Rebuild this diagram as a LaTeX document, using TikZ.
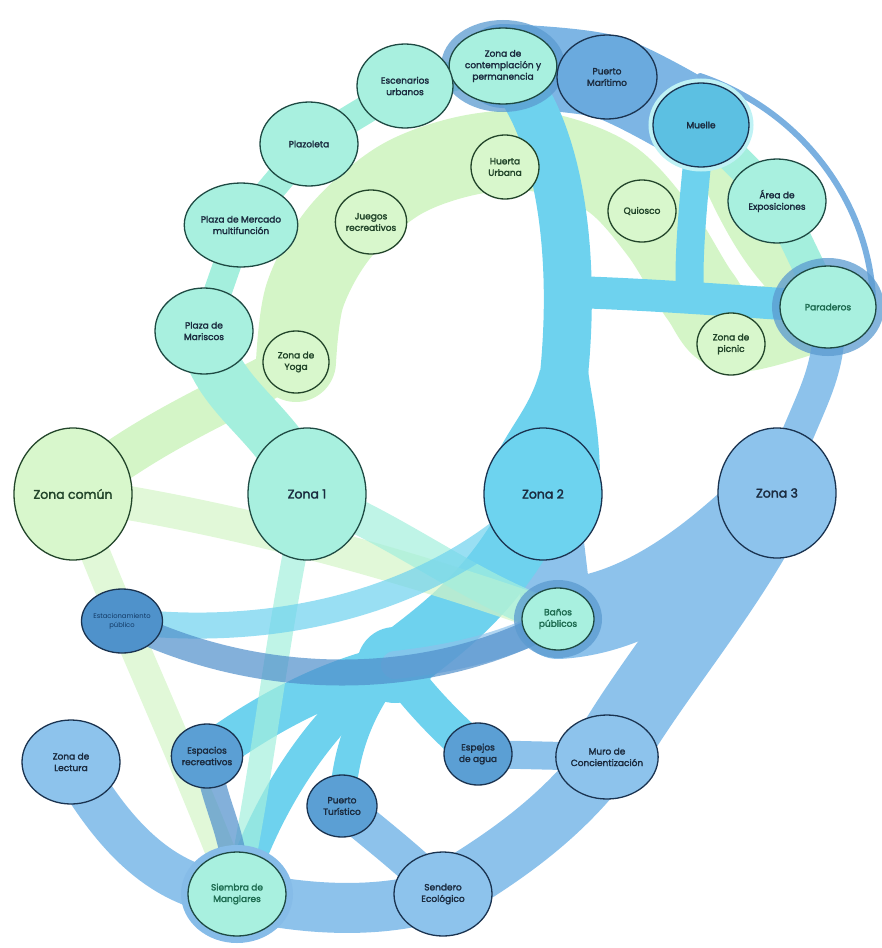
\documentclass[tikz,border=0pt]{standalone}
\usepackage{fontspec}
\setmainfont{Poppins}[BoldFont=Poppins, BoldFeatures={FakeBold=2.2}]
\usetikzlibrary{shapes.geometric}
\pgfdeclarelayer{bands}
\pgfdeclarelayer{over}
\pgfsetlayers{bands,over,main}
\definecolor{gfill}{HTML}{D8F7CC}
\definecolor{gband}{HTML}{D4F5C7}
\definecolor{afill}{HTML}{A8F0DF}
\definecolor{aband}{HTML}{A4EFDD}
\definecolor{cfill}{HTML}{6DD3EF}
\definecolor{cband}{HTML}{6ED2EE}
\definecolor{bfill}{HTML}{8DC3EC}
\definecolor{bband}{HTML}{8DC2EB}
\definecolor{topband}{HTML}{7DB5E4}
\definecolor{topline}{HTML}{7AB0E0}
\definecolor{dfill}{HTML}{5B9FD4}
\definecolor{pmfill}{HTML}{6AAADE}
\definecolor{estfill}{HTML}{4F92CB}
\definecolor{dband}{HTML}{4F8FCB}
\definecolor{mfill}{HTML}{5CC0E2}
\definecolor{muelring}{HTML}{BFF2F5}
\definecolor{esttext}{HTML}{123A66}
\definecolor{gline}{HTML}{22452A}
\definecolor{aline}{HTML}{1E4A43}
\definecolor{nline}{HTML}{1A3350}
\definecolor{labtext}{HTML}{1B2B3F}
\definecolor{teal}{HTML}{1D6B50}
\definecolor{haloc}{HTML}{5B9BD0}
\definecolor{halolight}{HTML}{86BCE8}
\tikzset{
  bub/.style={ellipse, draw, line width=1.3pt, inner sep=0pt, align=center,
    font=\fontsize{9}{11.5}\selectfont\bfseries, text=labtext},
  gnode/.style={bub, fill=gfill, draw=gline, text=gline},
  anode/.style={bub, fill=afill, draw=aline},
  cnode/.style={bub, fill=cfill, draw=nline},
  bnode/.style={bub, fill=bfill, draw=nline},
  dnode/.style={bub, fill=dfill, draw=nline},
  halo/.style={preaction={draw=haloc, line width=16pt, draw opacity=0.75}},
  lighthalo/.style={preaction={draw=halolight, line width=14pt}},
  sz/.style 2 args={minimum width=#1pt, minimum height=#2pt},
  bigz/.style={font=\fontsize{12.5}{14}\selectfont\bfseries},
  band/.style={line cap=round},
  gb/.style={band, draw=gband},
  ab/.style={band, draw=aband},
  cb/.style={band, draw=cband},
  bb/.style={band, draw=bband},
  db/.style={band, draw=dband},
  tr/.style={draw opacity=0.7}
}
\begin{document}
\begin{tikzpicture}[x=1pt,y=-1pt]
\useasboundingbox (0,0) rectangle (882,948);
% ---------- nodes ----------
\node[anode, sz={96}{76}, halo] (con) at (503,66) {Zona de\\contemplación y\\permanencia};
\node[bub, fill=pmfill, draw=nline, sz={100}{84}] (pma) at (607,77) {Puerto\\Marítimo};
\node[bub, fill=mfill, draw=nline, sz={96}{84}, preaction={draw=muelring, line width=9pt}] (mue) at (701,125) {Muelle};
\node[anode, sz={98}{84}] (are) at (777,201) {Área de\\Exposiciones};
\node[anode, sz={96}{82}, halo, text=teal] (par) at (828,307) {Paraderos};
\node[anode, sz={96}{84}] (esc) at (405,86) {Escenarios\\urbanos};
\node[anode, sz={98}{84}] (plz) at (309,144) {Plazoleta};
\node[anode, sz={98}{84}] (mer) at (241,225) {Plaza de Mercado\\multifunción};
\node[anode, sz={98}{86}] (mar) at (204,331) {Plaza de\\Mariscos};
\node[gnode, sz={66}{64}] (jue) at (371,222) {Juegos\\recreativos};
\node[gnode, sz={68}{64}] (hue) at (505,167) {Huerta\\Urbana};
\node[gnode, sz={68}{62}] (qui) at (642,211) {Quiosco};
\node[gnode, sz={66}{62}] (yog) at (296,362) {Zona de\\Yoga};
\node[gnode, sz={68}{62}] (pic) at (731,344) {Zona de\\picnic};
\node[gnode, sz={118}{132}, bigz] (zc) at (73,494) {Zona común};
\node[anode, sz={118}{132}, bigz] (z1) at (307,494) {Zona 1};
\node[cnode, sz={118}{132}, bigz] (z2) at (543,494) {Zona 2};
\node[bnode, sz={118}{130}, bigz] (z3) at (777,493) {Zona 3};
\node[bub, fill=estfill, draw=nline, sz={70}{64}, font=\fontsize{6.8}{9}\selectfont, text=esttext] (est) at (122,621) {Estacionamiento\\público};
\node[anode, sz={72}{62}, halo, text=teal] (ban) at (558,619) {Baños\\públicos};
\node[bnode, sz={98}{84}] (lec) at (71,762) {Zona de\\Lectura};
\node[dnode, sz={68}{64}] (esp) at (207,756) {Espacios\\recreativos};
\node[dnode, sz={70}{62}] (ptu) at (342,806) {Puerto\\Turístico};
\node[dnode, sz={68}{62}] (spj) at (478,754) {Espejos\\de agua};
\node[bnode, sz={98}{84}] (mur) at (607,757) {Muro de\\Concientización};
\node[anode, sz={98}{84}, lighthalo, text=teal] (sie) at (237,894) {Siembra de\\Manglares};
\node[bnode, sz={98}{84}] (sen) at (443,894) {Sendero\\Ecológico};
% ---------- junction points ----------
\coordinate (hub) at (395,665);
\coordinate (j1) at (575,292);
\coordinate (j2) at (690,298);
\coordinate (t1) at (700,76);
\coordinate (t2) at (873,298);
% ---------- opaque bands ----------
\begin{pgfonlayer}{bands}
% green
\draw[gb, line width=44pt] (zc.center) .. controls (150,430) and (230,400) .. (yog.center);
\draw[gb, line width=80pt] plot[smooth, tension=0.55] coordinates {(yog.center) (305,295) (340,232) (400,180) (470,155) (540,152) (610,178) (660,232) (700,296) (735,332) (par.center)};
\draw[gb, line width=40pt] (mue.center) .. controls (740,230) and (780,290) .. (par.center);
% aqua
\draw[ab, line width=28pt] (mar.center) -- (mer.center);
\draw[ab, line width=28pt] (mer.center) -- (plz.center);
\draw[ab, line width=28pt] (plz.center) -- (esc.center);
\draw[ab, line width=30pt] (esc.center) -- (con.center);
\draw[ab, line width=52pt] (mar.center) .. controls (215,400) and (280,420) .. (z1.center);
\draw[ab, line width=32pt] (mue.center) -- (are.center) -- (par.center);
% blue
\draw[bb, draw=topband, line width=84pt] plot[smooth] coordinates {(con.center) (pma.center) (mue.center)};
\draw[bb, draw=topline, line width=6pt] (t1) .. controls (800,110) and (868,200) .. (t2);
\draw[bb, line width=32pt] (par.center) .. controls (835,380) and (800,410) .. (z3.center);
\draw[bb, line width=75pt] (z3.center) .. controls (730,590) and (650,680) .. (mur.center);
\draw[bb, line width=80pt] (z3.center) .. controls (700,570) and (630,615) .. (ban.center);
\draw[bb, line width=70pt] (z2.center) -- (ban.center);
\draw[bb, line width=58pt] (mur.center) .. controls (560,820) and (500,860) .. (sen.center);
\draw[bb, line width=28pt] (mur.center) -- (spj.center);
\draw[bb, line width=50pt] (sen.center) .. controls (380,915) and (300,910) .. (sie.center);
\draw[bb, line width=36pt] (sen.center) .. controls (410,860) and (370,830) .. (ptu.center);
\draw[bb, line width=44pt] (sie.center) .. controls (160,890) and (110,830) .. (lec.center);
% cyan
\draw[cb, line width=48pt] (con.center) .. controls (575,140) and (585,330) .. (z2.center);
\fill[cband] (540,370) .. controls (530,410) and (505,430) .. (490,470) -- (600,470) .. controls (598,420) and (592,400) .. (588,370) -- cycle;
\draw[cb, line width=32pt] (j1) .. controls (660,295) and (720,300) .. (par.center);
\draw[cb, line width=28pt] (mue.center) .. controls (692,210) and (688,260) .. (j2);
\draw[cb, line width=64pt] (z2.center) .. controls (500,590) and (440,630) .. (hub);
\fill[cband] (hub) circle[radius=38pt];
\draw[cb, line width=42pt] (hub) .. controls (330,680) and (270,710) .. (esp.center);
\draw[cb, line width=32pt] (hub) .. controls (330,710) and (270,790) .. (sie.center);
\draw[cb, line width=38pt] (hub) .. controls (420,700) and (450,730) .. (spj.center);
\draw[cb, line width=26pt] (hub) .. controls (360,710) and (345,750) .. (ptu.center);
\end{pgfonlayer}
% ---------- transparent crossing bands ----------
\begin{pgfonlayer}{over}
\draw[gb, tr, line width=30pt] (zc.center) .. controls (110,600) and (170,720) .. (sie.center);
\draw[gb, tr, line width=34pt] (zc.center) .. controls (250,520) and (420,570) .. (ban.center);
\draw[ab, tr, line width=24pt] (z1.center) .. controls (275,640) and (265,760) .. (sie.center);
\draw[ab, tr, line width=34pt] (z1.center) .. controls (400,530) and (470,590) .. (ban.center);
\draw[bb, tr, line width=28pt] (ban.center) .. controls (500,650) and (440,660) .. (hub);
\draw[cb, tr, line width=26pt] (est.center) .. controls (280,640) and (440,600) .. (z2.center);
\draw[db, tr, line width=26pt] (est.center) .. controls (260,690) and (430,690) .. (ban.center);
\draw[db, tr, line width=26pt] (esp.center) .. controls (215,810) and (235,830) .. (sie.center);
\end{pgfonlayer}
\end{tikzpicture}
\end{document}
